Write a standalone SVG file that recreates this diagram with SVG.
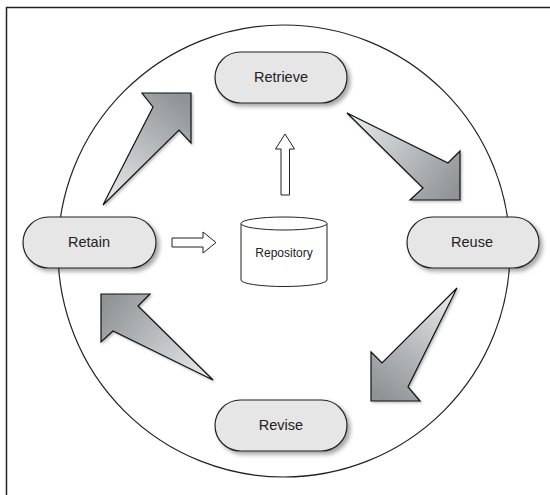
<svg xmlns="http://www.w3.org/2000/svg" width="550" height="495" viewBox="0 0 550 495">
<style>
.node rect{fill:#e6e6e6;stroke:#222;stroke-width:1.2;filter:url(#sh)}
.lbl{font-family:"Liberation Sans",Arial,sans-serif;font-size:14.5px;fill:#222;text-anchor:middle}
.big{stroke:#111;stroke-width:1.2;stroke-linejoin:miter;filter:url(#sh2)}
.hollow{fill:#fff;stroke:#222;stroke-width:1}
</style>
<defs>
<filter id="sh" x="-20%" y="-20%" width="150%" height="160%">
<feDropShadow dx="3" dy="3" stdDeviation="2" flood-color="#000" flood-opacity="0.35"/>
</filter>
<filter id="sh2" x="-20%" y="-20%" width="150%" height="150%">
<feDropShadow dx="1.5" dy="1.5" stdDeviation="1" flood-color="#000" flood-opacity="0.25"/>
</filter>
<linearGradient id="g1" gradientUnits="userSpaceOnUse" x1="103" y1="205" x2="185" y2="100">
<stop offset="0" stop-color="#eceeef"/><stop offset="1" stop-color="#8e9395"/>
</linearGradient>
<linearGradient id="g2" gradientUnits="userSpaceOnUse" x1="347" y1="113" x2="455" y2="195">
<stop offset="0" stop-color="#eceeef"/><stop offset="1" stop-color="#8e9395"/>
</linearGradient>
<linearGradient id="g3" gradientUnits="userSpaceOnUse" x1="457" y1="288" x2="378" y2="395">
<stop offset="0" stop-color="#eceeef"/><stop offset="1" stop-color="#8e9395"/>
</linearGradient>
<linearGradient id="g4" gradientUnits="userSpaceOnUse" x1="213" y1="380" x2="106" y2="300">
<stop offset="0" stop-color="#eceeef"/><stop offset="1" stop-color="#8e9395"/>
</linearGradient>
</defs>
<rect width="550" height="495" fill="#fff"/>
<path d="M6.5,495 V7.5 H550" fill="none" stroke="#222" stroke-width="1.5"/>
<circle cx="284" cy="251" r="226" fill="#fff" stroke="#222" stroke-width="1.2"/>
<g id="connectors">
<polygon class="big" fill="url(#g1)" points="103,205 153,107 142,93 191,93 191,143 179,130"/>
<polygon class="big" fill="url(#g2)" points="347,113 448,163 460,151 460,200 410,200 423,188"/>
<polygon class="big" fill="url(#g3)" points="457,288 408,387 420,401 371,401 371,352 382,363"/>
<polygon class="big" fill="url(#g4)" points="213,380 138,306 150,294 101,294 101,342 113,331"/>
<polygon class="hollow" points="281,195 281,149 275.5,149 285,134 294.5,149 289.5,149 289.5,195"/>
<polygon class="hollow" points="172,238 203,238 203,232 216,242.5 203,253 203,247 172,247"/>
</g>
<g id="retrieve" class="node"><rect x="215" y="52" width="132" height="51" rx="25.5"/><text class="lbl" x="281" y="82">Retrieve</text></g>
<g id="reuse" class="node"><rect x="407" y="217" width="132" height="51" rx="25.5"/><text class="lbl" x="472" y="247">Reuse</text></g>
<g id="revise" class="node"><rect x="215" y="400" width="132" height="51" rx="25.5"/><text class="lbl" x="281" y="430">Revise</text></g>
<g id="retain" class="node"><rect x="23" y="217" width="133" height="51" rx="25.5"/><text class="lbl" x="89" y="247">Retain</text></g>
<g id="repository">
<path d="M241,223.5 V280 A43,6.5 0 0 0 327,280 V223.5" fill="#fff" stroke="#222" stroke-width="1"/>
<ellipse cx="284" cy="223.5" rx="43" ry="6.5" fill="#fff" stroke="#222" stroke-width="1"/>
<text x="284" y="257" font-family="'Liberation Sans',Arial,sans-serif" font-size="12" fill="#222" text-anchor="middle">Repository</text>
</g>
</svg>
